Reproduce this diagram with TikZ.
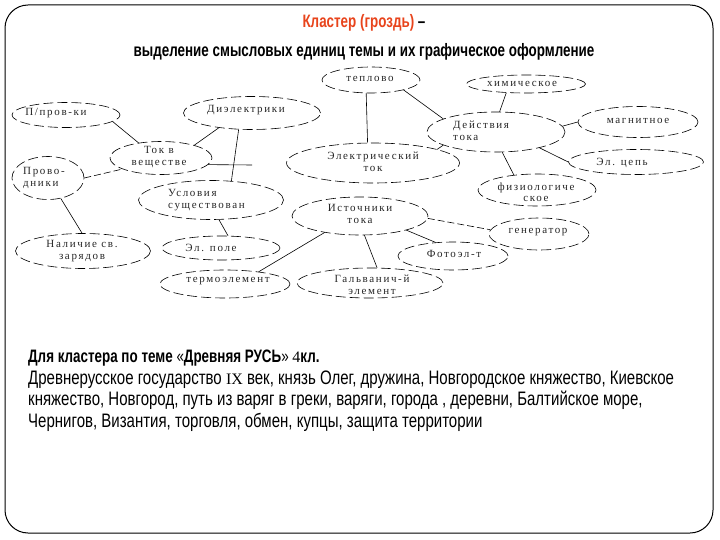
\documentclass[tikz,border=0pt]{standalone}
\usepackage{fontspec}
\usetikzlibrary{shapes.geometric}
\newfontfamily\hdfont[FakeStretch=0.745]{Liberation Sans}
\newfontfamily\bdfont[FakeStretch=0.77]{Liberation Sans}
\newfontfamily\ellfont[LetterSpace=15]{Liberation Serif}
\newfontfamily\romfont{Liberation Serif}
\definecolor{titlered}{RGB}{232,68,28}
\begin{document}
\begin{tikzpicture}[x=1pt,y=-1pt,
  ell/.style 2 args={draw, ellipse, dash pattern=on 10pt off 4pt, line width=0.6pt, inner sep=0pt, minimum width=#1pt, minimum height=#2pt},
  etxt/.style={font=\ellfont\fontsize{11}{11.5}\selectfont, inner sep=0pt, align=center, text=black!85},
  link/.style={line width=0.6pt},
  dlink/.style={line width=0.6pt, dash pattern=on 7pt off 3pt},
  head/.style={font=\hdfont\bfseries\fontsize{18}{20}\selectfont, inner sep=0pt, anchor=base},
  body/.style={font=\bdfont\fontsize{19.5}{21}\selectfont, inner sep=0pt, anchor=base west},
]
\useasboundingbox (0,0) rectangle (720,540);
\draw[line width=1pt, rounded corners=23pt] (5,5) rectangle (713,533);

\node[head] (title) at (364,28) {\textcolor{titlered}{Кластер (гроздь)} –};
\node[head] (subtitle) at (364,57) {выделение смысловых единиц темы и их графическое оформление};

\node[ell={98}{26}] (tep) at (371,80) {};
\node[etxt] (tep-t) at (370,79) {теплово};
\node[ell={119}{18}] (him) at (526,84) {};
\node[etxt] (him-t) at (522,84) {химическое};
\node[ell={108}{25}] (pp) at (66,115) {};
\node[etxt] (pp-t) at (56,113) {П/пров-ки};
\node[ell={137}{33}] (diel) at (252,113) {};
\node[etxt] (diel-t) at (246,110) {Диэлектрики};
\node[ell={138}{40}] (dej) at (496,132) {};
\node[etxt, align=left, anchor=west] (dej-t) at (453,131) {Действия\\тока};
\node[ell={120}{31}] (magn) at (638,122) {};
\node[etxt] (magn-t) at (638,121) {магнитное};
\node[ell={135}{25}] (cep) at (636,162) {};
\node[etxt] (cep-t) at (622,163) {Эл. цепь};
\node[ell={102}{33}] (tok) at (161,158) {};
\node[etxt] (tok-t) at (159,157) {Ток в\\веществе};
\node[ell={72}{43}] (prov) at (48,178) {};
\node[etxt, align=left, anchor=west] (prov-t) at (23,178) {Прово-\\дники};
\node[ell={173}{40}] (eltok) at (373,163) {};
\node[etxt] (eltok-t) at (373,162) {Электрический\\ток};
\node[ell={118}{32}] (fiz) at (537,190) {};
\node[etxt] (fiz-t) at (536,192) {физиологиче\\ское};
\node[ell={145}{39}] (usl) at (211,200) {};
\node[etxt, align=left, anchor=west] (usl-t) at (168,200) {Условия\\существован};
\node[ell={136}{38}] (ist) at (360,216) {};
\node[etxt] (ist-t) at (360,214) {Источники\\тока};
\node[ell={135}{35}] (nal) at (83,251) {};
\node[etxt] (nal-t) at (82,251) {Наличие св.\\зарядов};
\node[ell={118}{24}] (pole) at (221,248) {};
\node[etxt] (pole-t) at (211,248) {Эл. поле};
\node[ell={100}{32}] (gen) at (539,234) {};
\node[etxt] (gen-t) at (538,232) {генератор};
\node[ell={110}{28}] (foto) at (453,256) {};
\node[etxt] (foto-t) at (454,254) {Фотоэл-т};
\node[ell={130}{28}] (termo) at (225,284) {};
\node[etxt] (termo-t) at (228,281) {термоэлемент};
\node[ell={146}{30}] (galv) at (370,283) {};
\node[etxt] (galv-t) at (372,285) {Гальванич-й\\элемент};

\draw[link] (tep.250) -- (eltok.105);
\draw[link] (tep.343) -- (dej.166);
\draw[link] (him.204) -- (dej.80);
\draw[link] (dej.5) -- (magn.180);
\draw[link] (dej.340) -- (cep.180);
\draw[link] (dej.287) -- (fiz.147);
\draw[link] (dej.194) -- (eltok.12);
\draw[link] (pp.352) -- (tok.146);
\draw[link] (diel.204) -- (tok.21);
\draw[link] (diel.231) -- (usl.43);
\coordinate (stub) at (252,165);
\draw[link] (tok.352) -- (stub);
\draw[dlink] (prov.0) -- (tok.196);
\draw[link] (prov.302) -- (nal.93);
\draw[link] (usl.292) -- (pole.60);
\draw[link] (ist.205) -- (termo.20);
\draw[link] (ist.283) -- (galv.65);
\draw[link] (ist.343) -- (foto.142);
\draw[dlink] (ist.358) -- (gen.175);

\node[head, anchor=base west] (h2) at (28,362) {Для кластера по теме {\mdseries«}Древняя РУСЬ{\mdseries»} {\romfont\mdseries\fontsize{16}{20}\selectfont 4}кл.};
\node[body] (l1) at (28,384) {Древнерусское государство {\romfont\fontsize{16}{20}\selectfont IX} век, князь Олег, дружина, Новгородское княжество, Киевское};
\node[body] (l2) at (28,405) {княжество, Новгород, путь из варяг в греки, варяги, города , деревни, Балтийское море,};
\node[body] (l3) at (28,427) {Чернигов, Византия, торговля, обмен, купцы, защита территории};
\end{tikzpicture}
\end{document}
